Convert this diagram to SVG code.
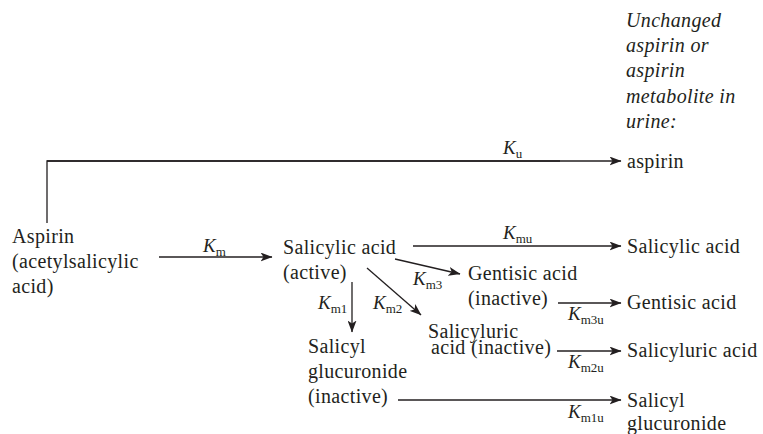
<svg xmlns="http://www.w3.org/2000/svg" width="763" height="434" viewBox="0 0 763 434">
<style>
  .c { stroke: #231f20; stroke-width: 1.3; fill: none; }
  .ca { stroke: #231f20; stroke-width: 1.3; fill: none; marker-end: url(#ah); }
</style>
<defs>
  <marker id="ah" viewBox="0 0 12 9" refX="11.5" refY="4.5" markerWidth="12" markerHeight="9" markerUnits="userSpaceOnUse" orient="auto">
    <path d="M0,0 L12,4.5 L0,9 L3,4.5 z" fill="#231f20"/>
  </marker>
</defs>
<rect width="763" height="434" fill="#ffffff"/>

<g id="header">
  <text font-family="Liberation Serif" font-size="20" letter-spacing="0.35" font-style="italic" fill="#231f20" x="626" y="27">Unchanged</text>
  <text font-family="Liberation Serif" font-size="20" letter-spacing="0.35" font-style="italic" fill="#231f20" x="626" y="52">aspirin or</text>
  <text font-family="Liberation Serif" font-size="20" letter-spacing="0.35" font-style="italic" fill="#231f20" x="626" y="77">aspirin</text>
  <text font-family="Liberation Serif" font-size="20" letter-spacing="0.35" font-style="italic" fill="#231f20" x="626" y="103">metabolite in</text>
  <text font-family="Liberation Serif" font-size="20" letter-spacing="0.35" font-style="italic" fill="#231f20" x="626" y="128">urine:</text>
</g>

<g id="connectors">
  <path class="c" d="M47,223 V161 H560"/>
  <path class="ca" d="M47,161 H621"/>
  <path class="ca" d="M159,257 H272"/>
  <path class="ca" d="M413,246 H621"/>
  <path class="ca" d="M395,259 L460,274"/>
  <path class="ca" d="M352,282 V332"/>
  <path class="ca" d="M367,268 L421,315"/>
  <path class="ca" d="M558,303 H621"/>
  <path class="ca" d="M557,351 H621"/>
  <path class="ca" d="M398,400 H621"/>
</g>

<g id="labels">
  <text font-family="Liberation Serif" font-size="19" font-style="italic" fill="#231f20" x="503" y="154">K<tspan font-size="13" font-style="normal" dy="4">u</tspan></text>
  <text font-family="Liberation Serif" font-size="19" font-style="italic" fill="#231f20" x="203" y="252">K<tspan font-size="13" font-style="normal" dy="4">m</tspan></text>
  <text font-family="Liberation Serif" font-size="19" font-style="italic" fill="#231f20" x="503" y="239">K<tspan font-size="13" font-style="normal" dy="4">mu</tspan></text>
  <text font-family="Liberation Serif" font-size="19" font-style="italic" fill="#231f20" x="413" y="285">K<tspan font-size="13" font-style="normal" dy="4">m3</tspan></text>
  <text font-family="Liberation Serif" font-size="19" font-style="italic" fill="#231f20" x="318" y="309">K<tspan font-size="13" font-style="normal" dy="4">m1</tspan></text>
  <text font-family="Liberation Serif" font-size="19" font-style="italic" fill="#231f20" x="373" y="309">K<tspan font-size="13" font-style="normal" dy="4">m2</tspan></text>
  <text font-family="Liberation Serif" font-size="19" font-style="italic" fill="#231f20" x="568" y="320">K<tspan font-size="13" font-style="normal" dy="4">m3u</tspan></text>
  <text font-family="Liberation Serif" font-size="19" font-style="italic" fill="#231f20" x="568" y="368">K<tspan font-size="13" font-style="normal" dy="4">m2u</tspan></text>
  <text font-family="Liberation Serif" font-size="19" font-style="italic" fill="#231f20" x="568" y="418">K<tspan font-size="13" font-style="normal" dy="4">m1u</tspan></text>
</g>

<g id="aspirin">
  <text font-family="Liberation Serif" font-size="20" letter-spacing="0.35" fill="#231f20" x="12" y="243">Aspirin</text>
  <text font-family="Liberation Serif" font-size="20" letter-spacing="0.35" fill="#231f20" x="12" y="268">(acetylsalicylic</text>
  <text font-family="Liberation Serif" font-size="20" letter-spacing="0.35" fill="#231f20" x="12" y="293">acid)</text>
</g>

<g id="salicylic-acid">
  <text font-family="Liberation Serif" font-size="20" letter-spacing="0.35" fill="#231f20" x="283" y="254">Salicylic acid</text>
  <text font-family="Liberation Serif" font-size="20" letter-spacing="0.35" fill="#231f20" x="283" y="279">(active)</text>
</g>

<g id="gentisic-acid">
  <text font-family="Liberation Serif" font-size="20" letter-spacing="0.35" fill="#231f20" x="468" y="280">Gentisic acid</text>
  <text font-family="Liberation Serif" font-size="20" letter-spacing="0.35" fill="#231f20" x="468" y="305">(inactive)</text>
</g>

<g id="salicyluric-acid">
  <text font-family="Liberation Serif" font-size="20" letter-spacing="0.35" fill="#231f20" x="428" y="338">Salicyluric</text>
  <text font-family="Liberation Serif" font-size="20" letter-spacing="0.35" fill="#231f20" x="431" y="354">acid (inactive)</text>
</g>

<g id="salicyl-glucuronide">
  <text font-family="Liberation Serif" font-size="20" letter-spacing="0.35" fill="#231f20" x="308" y="353">Salicyl</text>
  <text font-family="Liberation Serif" font-size="20" letter-spacing="0.35" fill="#231f20" x="308" y="378">glucuronide</text>
  <text font-family="Liberation Serif" font-size="20" letter-spacing="0.35" fill="#231f20" x="308" y="403">(inactive)</text>
</g>

<g id="urine-aspirin">
  <text font-family="Liberation Serif" font-size="20" letter-spacing="0.35" fill="#231f20" x="627" y="168">aspirin</text>
</g>
<g id="urine-salicylic-acid">
  <text font-family="Liberation Serif" font-size="20" letter-spacing="0.35" fill="#231f20" x="627" y="253">Salicylic acid</text>
</g>
<g id="urine-gentisic-acid">
  <text font-family="Liberation Serif" font-size="20" letter-spacing="0.35" fill="#231f20" x="627" y="309">Gentisic acid</text>
</g>
<g id="urine-salicyluric-acid">
  <text font-family="Liberation Serif" font-size="20" letter-spacing="0.35" fill="#231f20" x="627" y="357">Salicyluric acid</text>
</g>
<g id="urine-salicyl-glucuronide">
  <text font-family="Liberation Serif" font-size="20" letter-spacing="0.35" fill="#231f20" x="627" y="407">Salicyl</text>
  <text font-family="Liberation Serif" font-size="20" letter-spacing="0.35" fill="#231f20" x="627" y="430">glucuronide</text>
</g>
</svg>
